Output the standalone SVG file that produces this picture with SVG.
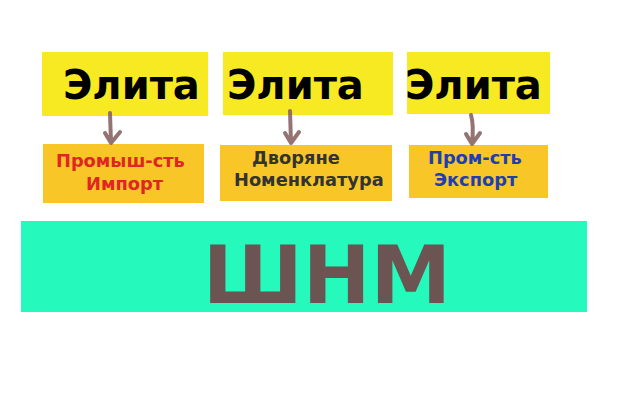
<svg xmlns="http://www.w3.org/2000/svg" width="640" height="400" viewBox="0 0 640 400">
<style>
.top{fill:#f8ea22}
.mid{fill:#f8c626}
.el{font-family:"DejaVu Sans",sans-serif;font-weight:bold;font-size:40px;fill:#000}
.lb{font-family:"DejaVu Sans",sans-serif;font-weight:bold;font-size:17.8px}
.ar{fill:none;stroke:#8a6464;stroke-width:4;stroke-linecap:round;stroke-linejoin:round;opacity:0.9}
</style>
<rect width="640" height="400" fill="#fff"/>
<g id="elite1"><rect class="top" x="42" y="52" width="166" height="64"/><text class="el" x="63" y="99">Элита</text></g>
<g id="elite2"><rect class="top" x="223" y="52" width="170" height="63"/><text class="el" x="227" y="99">Элита</text></g>
<g id="elite3"><rect class="top" x="407" y="52" width="143" height="62"/><text class="el" x="405" y="99">Элита</text></g>
<g id="box1"><rect class="mid" x="43" y="144" width="161" height="59"/>
<text class="lb" fill="#e02525"><tspan x="56" y="167">Промыш-сть</tspan><tspan x="86" y="190">Импорт</tspan></text></g>
<g id="box2"><rect class="mid" x="220" y="145" width="172" height="56"/>
<text class="lb" fill="#333333"><tspan x="252" y="164">Дворяне</tspan><tspan x="234" y="186">Номенклатура</tspan></text></g>
<g id="box3"><rect class="mid" x="409" y="145" width="139" height="53"/>
<text class="lb" fill="#1f3fb0"><tspan x="428" y="164">Пром-сть</tspan><tspan x="434" y="186">Экспорт</tspan></text></g>
<g id="shnm"><rect x="21" y="221" width="566" height="91" fill="#26f9bc"/>
<text x="327" y="303" text-anchor="middle" font-family="DejaVu Sans,sans-serif" font-weight="bold" font-size="81" fill="#6c5452">ШНМ</text></g>
<g id="connectors">
<path class="ar" d="M110 113 L111 143 M105 133 L111 143 L120 132"/>
<path class="ar" d="M290 111 L291 143 M285 133 L291 143 L299 132"/>
<path class="ar" d="M471 115 Q474 125 472 144 M466 134 L472 144 L480 133"/>
</g>
</svg>
